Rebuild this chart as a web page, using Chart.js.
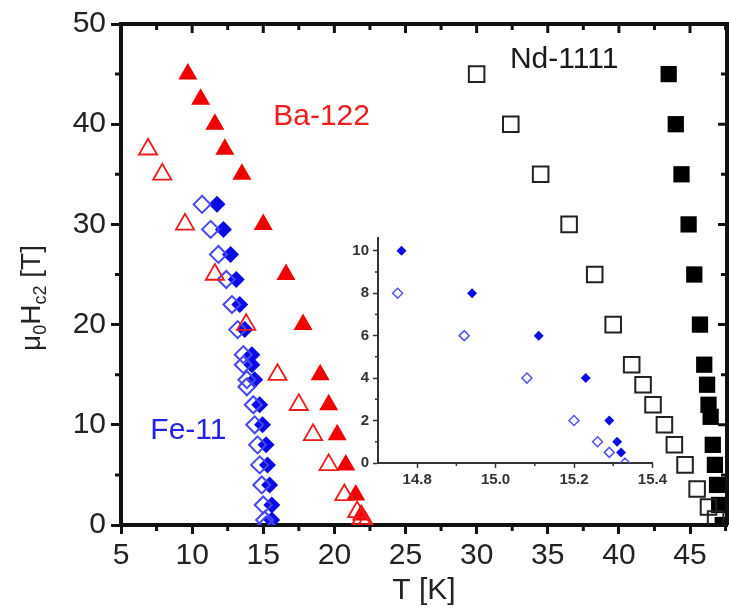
<!DOCTYPE html>
<html>
<head>
<meta charset="utf-8">
<script src="https://cdn.jsdelivr.net/npm/chart.js@4"></script>
<style>
  html,body{margin:0;padding:0;overflow:hidden;background:#fff;width:729px;height:612px;}
  #wrap{position:relative;width:740px;height:612px;}
  #main{position:absolute;left:0;top:0;}
  #inset{position:absolute;left:330px;top:225px;}
</style>
</head>
<body>
<div id="wrap">
  <canvas id="main" width="740" height="612"></canvas>
  <canvas id="inset" width="340" height="270"></canvas>
</div>
<script>
// Hc2(T) for the three iron-based families
const baClosedT = [9.7, 10.6, 11.6, 12.3, 13.5, 15.0, 16.6, 17.8, 19.0, 19.6, 20.2, 20.8, 21.5, 21.9];
const baClosedH = [45, 42.5, 40, 37.5, 35, 30, 25, 20, 15, 12, 9, 6, 3, 1];
const baOpenT = [6.9, 7.9, 9.5, 11.6, 13.8, 16.0, 17.5, 18.5, 19.6, 20.7, 21.6, 21.9, 22.2];
const baOpenH = [37.5, 35, 30, 25, 20, 15, 12, 9, 6, 3, 1.3, 0.6, 0.2];

const feOpenT = [10.7, 11.3, 11.85, 12.4, 12.8, 13.2, 13.6, 13.6, 13.85, 13.85, 14.3, 14.4, 14.6, 14.75, 14.9, 15.0, 15.1, 15.2];
const feOpenH = [32, 29.5, 27, 24.5, 22, 19.5, 17, 16, 14.5, 13.8, 12, 10, 8, 6, 4, 2, 0.5, 0];
const feClosedT = [11.75, 12.2, 12.7, 13.1, 13.35, 13.7, 14.2, 14.2, 14.4, 14.75, 14.95, 15.2, 15.3, 15.45, 15.6, 15.6];
const feClosedH = [32, 29.5, 27, 24.5, 22, 19.5, 17, 16, 14.5, 12, 10, 8, 6, 4, 2, 0.5];

const ndOpenT = [30.0, 32.4, 34.5, 36.5, 38.3, 39.6, 40.9, 41.7, 42.4, 43.2, 43.9, 44.65, 45.5, 46.3, 46.8];
const ndOpenH = [45, 40, 35, 30, 25, 20, 16, 14, 12, 10, 8, 6, 3.6, 1.8, 0.6];
const ndClosedT = [43.5, 44.0, 44.4, 44.9, 45.3, 45.7, 46.0, 46.2, 46.3, 46.45, 46.6, 46.75, 46.9, 47.05, 47.3];
const ndClosedH = [45, 40, 35, 30, 25, 20, 16, 14, 12, 10.8, 8, 6, 4, 2, 0];

// Fe-11 close to Tc (inset)
const insOpenT = [14.75, 14.92, 15.08, 15.2, 15.26, 15.29, 15.33];
const insOpenH = [8, 6, 4, 2, 1, 0.5, 0];
const insClosedT = [14.76, 14.94, 15.11, 15.23, 15.29, 15.31, 15.32];
const insClosedH = [10, 8, 6, 4, 2, 1, 0.5];

const xTicks = [5, 10, 15, 20, 25, 30, 35, 40, 45];
const xMinor = [7.5, 12.5, 17.5, 22.5, 27.5, 32.5, 37.5, 42.5, 47.5];
const yTicks = [0, 10, 20, 30, 40, 50];
const yMinor = [5, 15, 25, 35, 45];
const insXTicks = [14.8, 15.0, 15.2, 15.4];
const insXMinor = [14.9, 15.1, 15.3];
const insYTicks = [0, 2, 4, 6, 8, 10];
const insYMinor = [1, 3, 5, 7, 9];

const labels = [
  {text: "Ba-122", x: 19.1, y: 40.7, color: "#ee1c1c"},
  {text: "Nd-1111", x: 36.15, y: 46.4, color: "#1a1a1a"},
  {text: "Fe-11", x: 9.74, y: 9.4, color: "#2323e8"}
];

const FONT = "'Liberation Sans', Arial, sans-serif";
const pts = (xs, ys) => xs.map((x, i) => ({x, y: ys[i]}));

// minor ticks + mirrored frame (inward ticks on top/right)
const frameTicks = {
  id: "frameTicks",
  afterDraw(chart, args, o){
    const {ctx, chartArea: a, scales} = chart;
    const xs = scales.x, ys = scales.y;
    ctx.save();
    ctx.strokeStyle = o.color; ctx.lineCap = "butt";
    ctx.lineWidth = o.tickWidth;
    ctx.beginPath();
    o.xMinor.forEach(v => { const p = xs.getPixelForValue(v); if(p<=a.right+1){ ctx.moveTo(p, a.bottom); ctx.lineTo(p, a.bottom + o.minorLen); }});
    o.yMinor.forEach(v => { const p = ys.getPixelForValue(v); ctx.moveTo(a.left, p); ctx.lineTo(a.left - o.minorLen, p); });
    if(o.mirror){
      o.xMajor.forEach(v => { const p = xs.getPixelForValue(v); ctx.moveTo(p, a.top); ctx.lineTo(p, a.top + o.majorLen); });
      o.xMinor.forEach(v => { const p = xs.getPixelForValue(v); ctx.moveTo(p, a.top); ctx.lineTo(p, a.top + o.minorLen); });
      o.yMajor.forEach(v => { const p = ys.getPixelForValue(v); ctx.moveTo(a.right, p); ctx.lineTo(a.right - o.majorLen, p); });
      o.yMinor.forEach(v => { const p = ys.getPixelForValue(v); ctx.moveTo(a.right, p); ctx.lineTo(a.right - o.minorLen, p); });
    }
    ctx.stroke();
    if(o.mirror){
      ctx.lineWidth = o.frameWidth;
      ctx.beginPath();
      ctx.moveTo(a.left - 2, a.top); ctx.lineTo(a.right, a.top); ctx.lineTo(a.right, a.bottom);
      ctx.stroke();
    }
    ctx.restore();
  }
};

// axis title with sub-scripts and the family names
const mainText = {
  id: "mainText",
  afterDraw(chart){
    const {ctx, scales} = chart;
    ctx.save();
    ctx.textBaseline = "middle"; ctx.textAlign = "center";
    ctx.font = "30px " + FONT;
    labels.forEach(l => {
      ctx.fillStyle = l.color;
      ctx.fillText(l.text, scales.x.getPixelForValue(l.x), scales.y.getPixelForValue(l.y));
    });
    // μ0Hc2 [T]
    const parts = [["\u03bc", 0], ["0", 1], ["H", 0], ["c2", 1], [" [T]", 0]];
    const big = "28px " + FONT, small = "18px " + FONT;
    let w = 0;
    parts.forEach(p => { ctx.font = p[1] ? small : big; w += ctx.measureText(p[0]).width; });
    ctx.translate(40, 298);
    ctx.rotate(-Math.PI / 2);
    ctx.fillStyle = "#222"; ctx.textAlign = "left"; ctx.textBaseline = "alphabetic";
    let x = -w / 2;
    parts.forEach(p => {
      ctx.font = p[1] ? small : big;
      ctx.fillText(p[0], x, p[1] ? 6 : 0);
      x += ctx.measureText(p[0]).width;
    });
    ctx.restore();
  }
};

new Chart(document.getElementById("main"), {
  type: "scatter",
  data: {
    datasets: [
      {data: pts(ndOpenT, ndOpenH), pointStyle: "rect", pointRadius: 11, backgroundColor: "rgba(255,255,255,0)", borderColor: "#222", pointBorderWidth: 2},
      {data: pts(ndClosedT, ndClosedH), pointStyle: "rect", pointRadius: 11.5, backgroundColor: "#000", borderColor: "#000", pointBorderWidth: 0},
      {data: pts(baOpenT, baOpenH), pointStyle: "triangle", pointRadius: 10.5, backgroundColor: "rgba(255,255,255,0)", borderColor: "#f01a1a", pointBorderWidth: 1.8},
      {data: pts(baClosedT, baClosedH), pointStyle: "triangle", pointRadius: 11, backgroundColor: "#f00000", borderColor: "#f00000", pointBorderWidth: 0},
      {data: pts(feOpenT, feOpenH), pointStyle: "rectRot", pointRadius: 8.5, backgroundColor: "rgba(255,255,255,0)", borderColor: "#4646f2", pointBorderWidth: 2},
      {data: pts(feClosedT, feClosedH), pointStyle: "rectRot", pointRadius: 8.5, backgroundColor: "#0a0ae6", borderColor: "#0a0ae6", pointBorderWidth: 0}
    ]
  },
  options: {
    responsive: false, animation: false, devicePixelRatio: 1,
    layout: {padding: {left: 0, right: 8, top: 24, bottom: 0}},
    datasets: {scatter: {clip: 0}},
    plugins: {
      legend: {display: false}, tooltip: {enabled: false},
      frameTicks: {xMinor, yMinor, xMajor: xTicks, yMajor: yTicks, minorLen: 6, majorLen: 9, tickWidth: 3, frameWidth: 4, color: "#111", mirror: true}
    },
    scales: {
      x: {
        type: "linear", min: 5, max: 47.6,
        afterBuildTicks: s => { s.ticks = xTicks.map(v => ({value: v})); },
        afterFit: s => { s.height = 87; },
        border: {display: true, color: "#111", width: 4},
        grid: {drawOnChartArea: false, drawTicks: true, tickLength: 9, tickWidth: 3, tickColor: "#111"},
        ticks: {autoSkip: false, maxRotation: 0, padding: 4, color: "#222", font: {family: FONT, size: 30}},
        title: {display: true, text: "T [K]", color: "#222", font: {family: FONT, size: 30}, padding: {top: 0, bottom: 3}}
      },
      y: {
        type: "linear", min: 0, max: 50,
        afterBuildTicks: s => { s.ticks = yTicks.map(v => ({value: v})); },
        afterFit: s => { s.width = 121; },
        border: {display: true, color: "#111", width: 4},
        grid: {drawOnChartArea: false, drawTicks: true, tickLength: 10, tickWidth: 3, tickColor: "#111"},
        ticks: {autoSkip: false, padding: 5, color: "#222", font: {family: FONT, size: 30}}
      }
    }
  },
  plugins: [frameTicks, mainText]
});

new Chart(document.getElementById("inset"), {
  type: "scatter",
  data: {
    datasets: [
      {data: pts(insOpenT, insOpenH), pointStyle: "rectRot", pointRadius: 5, backgroundColor: "rgba(255,255,255,0)", borderColor: "#5252f5", pointBorderWidth: 1.5},
      {data: pts(insClosedT, insClosedH), pointStyle: "rectRot", pointRadius: 5, backgroundColor: "#0a0ae6", borderColor: "#0a0ae6", pointBorderWidth: 0}
    ]
  },
  options: {
    responsive: false, animation: false, devicePixelRatio: 1,
    layout: {padding: {left: 0, right: 12, top: 11, bottom: 0}},
    datasets: {scatter: {clip: 0}},
    plugins: {
      legend: {display: false}, tooltip: {enabled: false},
      frameTicks: {xMinor: insXMinor, yMinor: insYMinor, minorLen: 3, majorLen: 5, tickWidth: 1.5, frameWidth: 2, color: "#333", mirror: false}
    },
    scales: {
      x: {
        type: "linear", min: 14.7, max: 15.4,
        afterBuildTicks: s => { s.ticks = insXTicks.map(v => ({value: v})); },
        afterFit: s => { s.height = 32; },
        border: {display: true, color: "#333", width: 2},
        grid: {drawOnChartArea: false, drawTicks: true, tickLength: 5, tickWidth: 1.5, tickColor: "#333"},
        ticks: {autoSkip: false, maxRotation: 0, padding: 3, color: "#333", font: {family: FONT, size: 15, weight: "bold"}, callback: v => v.toFixed(1)}
      },
      y: {
        type: "linear", min: 0, max: 10.6,
        afterBuildTicks: s => { s.ticks = insYTicks.map(v => ({value: v})); },
        afterFit: s => { s.width = 48; },
        border: {display: true, color: "#333", width: 2},
        grid: {drawOnChartArea: false, drawTicks: true, tickLength: 5, tickWidth: 1.5, tickColor: "#333"},
        ticks: {autoSkip: false, padding: 4, color: "#333", font: {family: FONT, size: 15, weight: "bold"}}
      }
    }
  },
  plugins: [frameTicks]
});
</script>
</body>
</html>
